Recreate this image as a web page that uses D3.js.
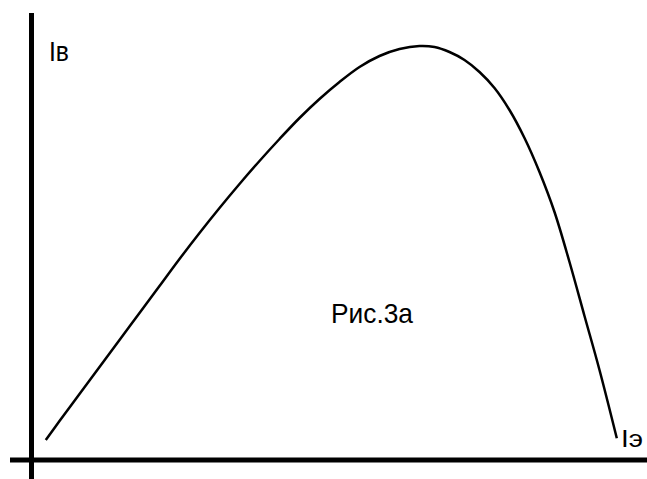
<!DOCTYPE html>
<html>
<head>
<meta charset="utf-8">
<script src="https://cdn.jsdelivr.net/npm/d3@7"></script>
<style>
html,body{margin:0;padding:0;background:#fff;}
svg{display:block;}
text{font-family:"Liberation Sans",Arial,sans-serif;fill:#000;}
</style>
</head>
<body>
<svg id="chart" width="647" height="479"></svg>
<script>
// I_э (emitter current) values, arbitrary units
const iEmitter = [15,28,48,68,88,108,128,148,168,188,208,228,248,268,288,308,328,348,368,388,403,418,433,448,463,478,493,508,523,538,553,568,585];
// I_в values, arbitrary units
const iB = [21,39,66,93,120,147,174,201,227,252,276,299,321,342,361,378,393,404,411,414,413,408,400,388,372,350,322,288,248,198,144,90,23];
const axisLabels = ["Iв","Iэ"];
const caption = "Рис.3а";

const W = 647, H = 479;
const ox = 31.5, oy = 460;
const svg = d3.select("#chart");

const x = d3.scaleLinear().domain([0, 615]).range([ox, ox + 615]);
const y = d3.scaleLinear().domain([0, 447]).range([oy, oy - 447]);

// axes
svg.append("line").attr("x1", ox).attr("x2", ox).attr("y1", 13).attr("y2", H)
  .attr("stroke", "#000").attr("stroke-width", 5);
svg.append("line").attr("x1", 10).attr("x2", W).attr("y1", oy).attr("y2", oy)
  .attr("stroke", "#000").attr("stroke-width", 5);

const pts = iEmitter.map((d, i) => [d, iB[i]]);
const line = d3.line().x(d => x(d[0])).y(d => y(d[1])).curve(d3.curveCatmullRom.alpha(0.5));
svg.append("path").datum(pts).attr("d", line)
  .attr("fill", "none").attr("stroke", "#000").attr("stroke-width", 2.5)
  .attr("stroke-linecap", "square");

// labels
svg.append("text").attr("x", 49).attr("y", 61).attr("font-size", 28)
  .attr("textLength", 20).attr("lengthAdjust", "spacingAndGlyphs").text(axisLabels[0]);
svg.append("text").attr("x", 621).attr("y", 447).attr("font-size", 24)
  .attr("textLength", 22).attr("lengthAdjust", "spacingAndGlyphs").text(axisLabels[1]);
svg.append("text").attr("x", 331).attr("y", 323).attr("font-size", 28)
  .attr("textLength", 82).attr("lengthAdjust", "spacingAndGlyphs").text(caption);
</script>
</body>
</html>
